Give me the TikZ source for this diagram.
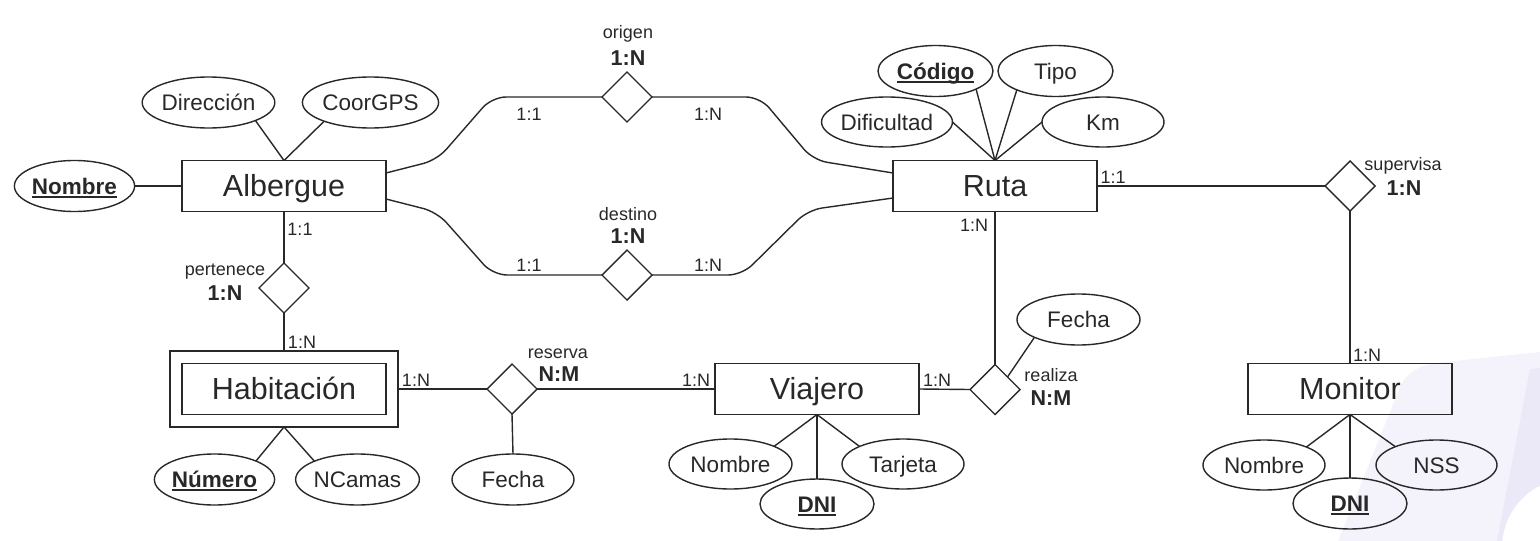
\documentclass[tikz,border=0pt]{standalone}
\usepackage{fontspec}
\setmainfont{Liberation Sans}
\usetikzlibrary{shapes.geometric}
\definecolor{ink}{RGB}{40,40,40}
\definecolor{wmA}{RGB}{244,243,251}
\definecolor{wmB}{RGB}{235,233,248}
\newcommand\ulx[1]{\setbox0\hbox{#1}\rlap{\rule[-3.8pt]{\wd0}{2pt}}\box0}
\tikzset{
  ent/.style={draw=ink, line width=1.4pt, rectangle, inner sep=0pt, outer sep=0pt,
    minimum width=204pt, minimum height=51pt, text=ink,
    font=\fontsize{30.5}{34}\selectfont, text height=21.8pt, text depth=0pt},
  att/.style={draw=ink, line width=1.4pt, ellipse, inner sep=0pt, outer sep=0pt,
    minimum height=51pt, text=ink,
    font=\fontsize{22.5}{26}\selectfont, text height=16.1pt, text depth=0pt},
  rel/.style={draw=ink, line width=1.4pt, diamond, inner sep=0pt, outer sep=0pt,
    minimum width=50pt, minimum height=50pt},
  card/.style={font=\fontsize{18}{20}\selectfont, text=ink, anchor=base, inner sep=0pt},
  rname/.style={font=\fontsize{18}{20}\selectfont, text=ink, anchor=base, inner sep=0pt},
  rcard/.style={font=\fontsize{21.5}{24}\selectfont\bfseries, text=ink, anchor=base, inner sep=0pt},
  link/.style={draw=ink, line width=1.4pt},
  curvelink/.style={link, rounded corners=14pt},
}
\begin{document}
\begin{tikzpicture}[x=1pt,y=-1pt]
\useasboundingbox (0,0) rectangle (1540,541);
% faint watermark
\begin{scope}
\clip (0,0) rectangle (1540,541);
\fill[wmA] (1338,541) -- (1398,392) .. controls (1405,372) and (1420,364) .. (1445,362) -- (1540,352) -- (1540,541) -- cycle;
\fill[wmB] (1497,541) -- (1530,369) -- (1540,368) -- (1540,541) -- cycle;
\fill[white] (1572,548) circle (70);
\end{scope}

% entities
\node[ent] (alb) at (284,186) {Albergue};
\node[ent] (ruta) at (995,186) {Ruta};
\node[ent, minimum width=228pt, minimum height=76pt] (habout) at (284,389) {};
\node[ent] (hab) at (284,389) {Habitación};
\node[ent] (via) at (817,389) {Viajero};
\node[ent] (mon) at (1350,389) {Monitor};

% relationships
\node[rel] (orig) at (627,97) {};
\node[rel] (dest) at (627,275) {};
\node[rel] (pert) at (284,288) {};
\node[rel] (res) at (512,389) {};
\node[rel] (real) at (995,389.5) {};
\node[rel] (sup) at (1350,186) {};

% attributes
\node[att, minimum width=115pt] (nomA) at (74.5,186) {\bfseries\ulx{Nombre}};
\node[att, minimum width=119pt] (dir) at (208.5,102.5) {Dirección};
\node[att, minimum width=123pt] (gps) at (370.5,102.5) {CoorGPS};
\node[att, minimum width=115pt] (cod) at (935.5,71) {\bfseries\ulx{Código}};
\node[att, minimum width=115pt] (tipo) at (1055.5,71) {Tipo};
\node[att, minimum width=122pt, minimum height=50pt] (dif) at (887,122) {Dificultad};
\node[att, minimum width=122pt, minimum height=50pt] (km) at (1103,122) {Km};
\node[att, minimum width=123pt] (fechaR) at (1078.5,319.5) {Fecha};
\node[att, minimum width=115pt] (num) at (214.5,479.5) {\bfseries\ulx{Número}};
\node[att, minimum width=121pt] (ncam) at (357.5,479.5) {NCamas};
\node[att, minimum width=122pt] (fechaH) at (513,479.5) {Fecha};
\node[att, minimum width=123pt, minimum height=50pt] (nomV) at (730.5,464) {Nombre};
\node[att, minimum width=122pt, minimum height=50pt] (tarj) at (903,464) {Tarjeta};
\node[att, minimum width=114pt, minimum height=50pt] (dniV) at (817,504) {\bfseries\ulx{DNI}};
\node[att, minimum width=122pt, minimum height=50pt] (nomM) at (1264,465) {Nombre};
\node[att, minimum width=121pt, minimum height=50pt] (nss) at (1436.5,465) {NSS};
\node[att, minimum width=114pt, minimum height=51pt] (dniM) at (1350,503.5) {\bfseries\ulx{DNI}};

% bend points
\coordinate (o1) at (437,160);
\coordinate (o2) at (492,97);
\coordinate (o3) at (760,97);
\coordinate (o4) at (813,160);
\coordinate (d1) at (437,212);
\coordinate (d2) at (493,275);
\coordinate (d3) at (742,275);
\coordinate (d4) at (808,210);

% connectors
\draw[curvelink] ([yshift=13pt]alb.east) -- (o1) -- (o2) -- (orig.west);
\draw[curvelink] (orig.east) -- (o3) -- (o4) -- ([yshift=13pt]ruta.west);
\draw[curvelink] ([yshift=-13pt]alb.east) -- (d1) -- (d2) -- (dest.west);
\draw[curvelink] (dest.east) -- (d3) -- (d4) -- ([yshift=-12pt]ruta.west);

\draw[link] (nomA) -- (alb);
\draw[link] (dir.-21) -- (alb.north);
\draw[link] (gps.202) -- (alb.north);
\draw[link] (dif.east) -- (ruta.north);
\draw[link] (cod.-24) -- (ruta.north);
\draw[link] (tipo.206) -- (ruta.north);
\draw[link] (km.west) -- (ruta.north);
\draw[link] (alb.south) -- (pert.north);
\draw[link] (pert.south) -- (habout.north);
\draw[link] (habout.east) -- (res.west);
\draw[link] (res.east) -- (via.west);
\draw[link] (res.south) -- (fechaH.north);
\draw[link] (via.east) -- (real.west);
\draw[link] (ruta.south) -- (real.north);
\draw[link] (fechaR.202) -- (real.north east);
\draw[link] (ruta.east) -- (sup.west);
\draw[link] (sup.south) -- (mon.north);
\draw[link] (habout.south) -- (num.24.5);
\draw[link] (habout.south) -- (ncam.157);
\draw[link] (via.south) -- (nomV.22);
\draw[link] (via.south) -- (tarj.158);
\draw[link] (via.south) -- (dniV.north);
\draw[link] (mon.south) -- (nomM.23);
\draw[link] (mon.south) -- (nss.156);
\draw[link] (mon.south) -- (dniM.north);

% labels
\node[card] (c1) at (529,120) {1:1};
\node[card] (c2) at (708,120) {1:N};
\node[card] (c3) at (529,271.5) {1:1};
\node[card] (c4) at (708,271.5) {1:N};
\node[rname] (t1) at (628,38.5) {origen};
\node[rcard] (k1) at (628,65) {1:N};
\node[rname] (t2) at (628,220) {destino};
\node[rcard] (k2) at (628,243) {1:N};
\node[card] (c5) at (300,235) {1:1};
\node[rname] (t3) at (225,275) {pertenece};
\node[rcard] (k3) at (225,300) {1:N};
\node[card] (c6) at (302,348) {1:N};
\node[card] (c7) at (416,386.7) {1:N};
\node[rname] (t4) at (558,358.3) {reserva};
\node[rcard] (k4) at (559,381.7) {N:M};
\node[card] (c8) at (696,386.7) {1:N};
\node[card] (c9) at (937,386.7) {1:N};
\node[rname] (t5) at (1051,381.7) {realiza};
\node[rcard] (k5) at (1051,405) {N:M};
\node[card] (c10) at (974,231) {1:N};
\node[card] (c11) at (1113,183.3) {1:1};
\node[rname] (t6) at (1403,170.7) {supervisa};
\node[rcard] (k6) at (1404,195) {1:N};
\node[card] (c12) at (1367,361.7) {1:N};
\end{tikzpicture}
\end{document}
